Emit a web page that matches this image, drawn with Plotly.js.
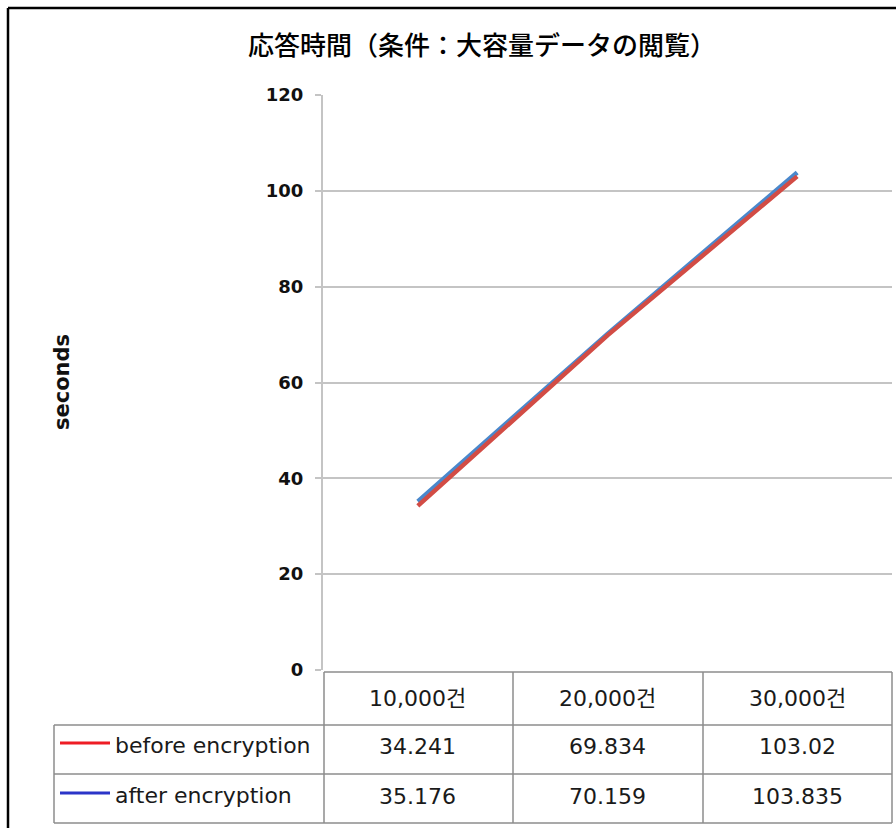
<!DOCTYPE html>
<html>
<head>
<meta charset="utf-8">
<script src="https://cdn.plot.ly/plotly-3.0.1.min.js"></script>
<style>
  html, body { margin: 0; padding: 0; background: #fff; }
  #chart { width: 896px; height: 828px; }
</style>
</head>
<body>
<div id="chart"></div>
<script>
// Response time data (records fetched vs. seconds)
const categories = ['10,000건', '20,000건', '30,000건'];
const seriesNames = ['before encryption', 'after encryption'];
const beforeEncryption = [34.241, 69.834, 103.02];
const afterEncryption = [35.176, 70.159, 103.835];
const yTicks = [0, 20, 40, 60, 80, 100, 120];

// Plot-area geometry in page pixels
const W = 896, H = 828;
const PL = 323, PR = 892, PT = 95, PB = 670;
const px = x => (x - PL) / (PR - PL);
const py = y => (PB - y) / (PB - PT);

const lineColors = ['#d24c45', '#4a88cc'];
const legendColors = ['#ee1c24', '#2b35c8'];
const series = [beforeEncryption, afterEncryption];

const xIdx = categories.map((_, i) => i);

// Draw blue first so the red line sits on top
const traces = [1, 0].map(s => ({
  type: 'scatter',
  mode: 'lines',
  x: xIdx,
  y: series[s],
  name: seriesNames[s],
  line: { color: lineColors[s], width: 4.5 },
  hoverinfo: 'x+y',
  showlegend: false
}));

// Data table underneath the plot
const gridColor = '#8c8c8c';
const rowTops = [672, 725, 774, 823];
const shapes = [];
const line = (x0, y0, x1, y1, color, width) => shapes.push({
  type: 'line', xref: 'paper', yref: 'paper',
  x0: px(x0), y0: py(y0), x1: px(x1), y1: py(y1),
  line: { color: color, width: width }
});

// horizontal rules
line(324, rowTops[0], 892, rowTops[0], gridColor, 1.5);
line(54, rowTops[1], 892, rowTops[1], gridColor, 1.5);
line(54, rowTops[2], 892, rowTops[2], gridColor, 1.5);
line(54, rowTops[3], 892, rowTops[3], gridColor, 1.5);
// vertical rules
line(54, rowTops[1], 54, rowTops[3], gridColor, 1.5);
[324, 513, 703, 892].forEach(x => line(x, rowTops[0], x, rowTops[3], gridColor, 1.5));

// legend keys
line(60, 743, 110, 743, legendColors[0], 3);
line(60, 793, 110, 793, legendColors[1], 3);

// outer frame
line(8, 8, 900, 8, '#000', 2.5);
line(8, 8, 8, 840, '#000', 2.5);

const tableFont = { family: 'DejaVu Sans, Noto Sans CJK KR, sans-serif', size: 22, color: '#1a1a1a' };
const annotations = [];

categories.forEach((c, i) => {
  annotations.push({
    xref: 'x', yref: 'paper', x: i, y: py(698),
    text: c, showarrow: false, xanchor: 'center', yanchor: 'middle', font: tableFont
  });
  series.forEach((vals, s) => {
    annotations.push({
      xref: 'x', yref: 'paper', x: i, y: py(s === 0 ? 746 : 796),
      text: String(vals[i]), showarrow: false, xanchor: 'center', yanchor: 'middle', font: tableFont
    });
  });
});

seriesNames.forEach((n, s) => {
  annotations.push({
    xref: 'paper', yref: 'paper', x: px(113), y: py(s === 0 ? 745 : 795),
    text: n, showarrow: false, xanchor: 'left', yanchor: 'middle', font: tableFont
  });
});

// vertical axis caption
annotations.push({
  xref: 'paper', yref: 'paper', x: px(62), y: py(382),
  text: 'seconds', textangle: -90, showarrow: false,
  xanchor: 'center', yanchor: 'middle',
  font: { family: 'DejaVu Sans, sans-serif', size: 21, color: '#111', weight: 'bold' }
});

const layout = {
  width: W, height: H,
  margin: { l: PL, r: W - PR, t: PT, b: H - PB, pad: 0 },
  paper_bgcolor: '#fff', plot_bgcolor: '#fff',
  title: {
    text: '応答時間（条件：大容量データの閲覧）',
    x: 482 / W, xref: 'container', xanchor: 'center',
    y: 1 - 46 / H, yref: 'container', yanchor: 'middle',
    font: { family: 'Noto Sans CJK JP, sans-serif', size: 26, color: '#000', weight: 500 }
  },
  xaxis: {
    type: 'linear', range: [-0.5, 2.5],
    showticklabels: false, showgrid: false, zeroline: false,
    showline: false, ticks: ''
  },
  yaxis: {
    range: [0, 120], tickvals: yTicks, ticktext: yTicks.map(String),
    showgrid: true, gridcolor: '#c4c4c4', gridwidth: 2,
    zeroline: false,
    showline: true, linecolor: '#c4c4c4', linewidth: 2,
    ticks: 'outside', ticklen: 6, tickcolor: '#c4c4c4', tickwidth: 2,
    ticklabelstandoff: 8,
    tickfont: { family: 'DejaVu Sans, sans-serif', size: 18, color: '#111', weight: 'bold' }
  },
  shapes: shapes,
  annotations: annotations,
  showlegend: false
};

Plotly.newPlot('chart', traces, layout, { displayModeBar: false, staticPlot: true });
</script>
</body>
</html>
